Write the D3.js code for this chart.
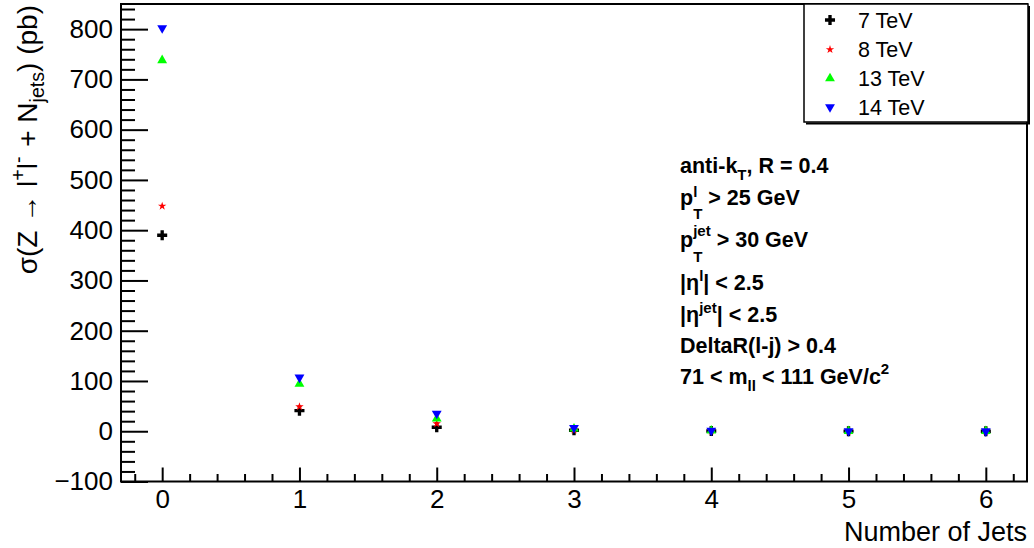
<!DOCTYPE html>
<html><head><meta charset="utf-8">
<script src="https://cdn.jsdelivr.net/npm/d3@7"></script>
<style>
html,body{margin:0;padding:0;background:#fff;}
svg{display:block;}
text{font-family:"Liberation Sans",Arial,sans-serif;fill:#000;white-space:pre;}
</style></head>
<body>
<script>
// ---- data ----
const categories = [0, 1, 2, 3, 4, 5, 6];
const values7TeV  = [390, 41, 8, 2, 0.5, 0.1, 0.02];
const values8TeV  = [448, 49, 15, 2.5, 0.6, 0.1, 0.03];
const values13TeV = [738, 94, 25, 5, 1.2, 0.3, 0.06];
const values14TeV = [802, 107, 35, 7, 1.5, 0.4, 0.08];
const seriesNames = ["7 TeV", "8 TeV", "13 TeV", "14 TeV"];
const xTickValues = [0, 1, 2, 3, 4, 5, 6];
const yTickValues = [-100, 0, 100, 200, 300, 400, 500, 600, 700, 800];
const xTitle = "Number of Jets";

const W = 1034, H = 548;
const L = 121, R = 1027, T = 4, B = 481.5;

const svg = d3.select("body").append("svg").attr("width", W).attr("height", H);

const x = d3.scaleLinear().domain([-0.3, 6.3]).range([L, R]);
const y = d3.scaleLinear().domain([-100, 850]).range([B, T]);

// minor ticks
const xMinor = d3.range(-0.2, 6.3, 0.2).filter(v => Math.abs(v - Math.round(v)) > 1e-6);
const yMinor = d3.range(-100, 850, 20).filter(v => v % 100 !== 0);

const axFont = 26;
svg.append("g").attr("transform", `translate(0,${B})`)
  .call(d3.axisBottom(x).tickValues(xMinor).tickSize(-7.5).tickFormat(""))
  .call(g => g.select(".domain").remove())
  .call(g => g.selectAll("line").attr("stroke", "#000").attr("stroke-width", 2));
svg.append("g").attr("transform", `translate(0,${B})`)
  .call(d3.axisBottom(x).tickValues(xTickValues).tickSize(-14).tickPadding(8).tickFormat(d3.format("d")))
  .call(g => g.select(".domain").remove())
  .call(g => g.selectAll("line").attr("stroke", "#000").attr("stroke-width", 2))
  .call(g => g.selectAll("text").attr("font-size", axFont).attr("font-family", "Liberation Sans"));

svg.append("g").attr("transform", `translate(${L},0)`)
  .call(d3.axisLeft(y).tickValues(yMinor).tickSize(-14).tickFormat(""))
  .call(g => g.select(".domain").remove())
  .call(g => g.selectAll("line").attr("stroke", "#000").attr("stroke-width", 2));
svg.append("g").attr("transform", `translate(${L},0)`)
  .call(d3.axisLeft(y).tickValues(yTickValues).tickSize(-27).tickPadding(8).tickFormat(d3.format("d")))
  .call(g => g.select(".domain").remove())
  .call(g => g.selectAll("line").attr("stroke", "#000").attr("stroke-width", 2))
  .call(g => g.selectAll("text").attr("font-size", axFont).attr("font-family", "Liberation Sans"));

// frame
svg.append("rect").attr("x", L).attr("y", T).attr("width", R - L).attr("height", B - T)
  .attr("fill", "none").attr("stroke", "#000").attr("stroke-width", 2);

// x title
svg.append("text").attr("x", R).attr("y", 541).attr("text-anchor", "end")
  .attr("font-size", 27).text(xTitle);

// rich text helper: segs = [{t, sup, sub, supDy, subDy}]
function richText(parent, segs, fs, weight) {
  const g = parent.append("g");
  let cx = 0;
  segs.forEach(s => {
    let w = 0;
    if (s.t) {
      const el = g.append("text").attr("x", cx).attr("y", 0).attr("font-size", fs)
        .attr("font-weight", weight).text(s.t);
      w = el.node().getComputedTextLength();
      cx += w;
    }
    let ws = 0;
    if (s.sup) {
      const el = g.append("text").attr("x", cx + (s.supDx || 0)).attr("y", s.supDy != null ? s.supDy : -0.45 * fs)
        .attr("font-size", fs * 0.7).attr("font-weight", weight).text(s.sup);
      ws = Math.max(ws, el.node().getComputedTextLength() + (s.supDx || 0));
    }
    if (s.sub) {
      const el = g.append("text").attr("x", cx).attr("y", s.subDy != null ? s.subDy : 0.3 * fs)
        .attr("font-size", fs * 0.7).attr("font-weight", weight).text(s.sub);
      ws = Math.max(ws, el.node().getComputedTextLength());
    }
    cx += ws + (s.gap || 0);
  });
  return {g, width: cx};
}

// y title (rotated, right-aligned at top)
{
  const outer = svg.append("g").attr("transform", `translate(37,${T + 1}) rotate(-90)`);
  const r = richText(outer, [
    {t: "σ(Z → l", sup: "+", supDy: -12},
    {t: "l", sup: "-", supDy: -12, gap: 2},
    {t: " + N", sub: "jets", subDy: 7},
    {t: ") (pb)"}
  ], 28, "normal");
  r.g.attr("transform", `translate(${-r.width},0)`);
}

// annotation text
const annX = 680;
const annLines = [
  {y: 173, segs: [{t: "anti-k", sub: "T", subDy: 7}, {t: ", R = 0.4"}]},
  {y: 205, segs: [{t: "p", sup: "l", sub: "T", supDy: -8, subDy: 14}, {t: " > 25 GeV"}]},
  {y: 247, segs: [{t: "p", sup: "jet", sub: "T", supDy: -11, subDy: 15}, {t: " > 30 GeV"}]},
  {y: 290, segs: [{t: "|η", sup: "l", supDy: -9}, {t: "| < 2.5"}]},
  {y: 322, segs: [{t: "|η", sup: "jet", supDy: -9}, {t: "| < 2.5"}]},
  {y: 353, segs: [{t: "DeltaR(l-j) > 0.4"}]},
  {y: 384, segs: [{t: "71 < m", sub: "ll", subDy: 7}, {t: " < 111 GeV/c", sup: "2", supDy: -10}]}
];
annLines.forEach(l => {
  const r = richText(svg, l.segs, 21.5, "bold");
  r.g.attr("transform", `translate(${annX},${l.y})`);
});

// markers
const styles = [
  {vals: values7TeV,  color: "#000000", sym: d3.symbolCross,    size: 56, rot: 0},
  {vals: values8TeV,  color: "#ff0000", sym: d3.symbolStar,     size: 22, rot: 0},
  {vals: values13TeV, color: "#00ff00", sym: d3.symbolTriangle, size: 42, rot: 0},
  {vals: values14TeV, color: "#0000ff", sym: d3.symbolTriangle, size: 42, rot: 180}
];
styles.forEach(s => {
  svg.append("g").selectAll("path").data(categories).join("path")
    .attr("d", d3.symbol().type(s.sym).size(s.size))
    .attr("transform", (d, i) => `translate(${x(d)},${y(s.vals[i])}) rotate(${s.rot})`)
    .attr("fill", s.color);
});

// legend
const lg = svg.append("g");
lg.append("rect").attr("x", 804).attr("y", 4).attr("width", 224).attr("height", 118)
  .attr("fill", "#fff").attr("stroke", "#000").attr("stroke-width", 1.5);
lg.append("line").attr("x1", 1029).attr("x2", 1029).attr("y1", 6).attr("y2", 124).attr("stroke", "#000").attr("stroke-width", 2);
lg.append("line").attr("x1", 806).attr("x2", 1030).attr("y1", 123.5).attr("y2", 123.5).attr("stroke", "#000").attr("stroke-width", 2);
const rowY = [20, 49.5, 78.5, 107];
styles.forEach((s, i) => {
  lg.append("path").attr("d", d3.symbol().type(s.sym).size(s.size))
    .attr("transform", `translate(830,${rowY[i]}) rotate(${s.rot})`).attr("fill", s.color);
  lg.append("text").attr("x", 858).attr("y", rowY[i] + 7.5).attr("font-size", 21.5).text(seriesNames[i]);
});
</script>
</body></html>
